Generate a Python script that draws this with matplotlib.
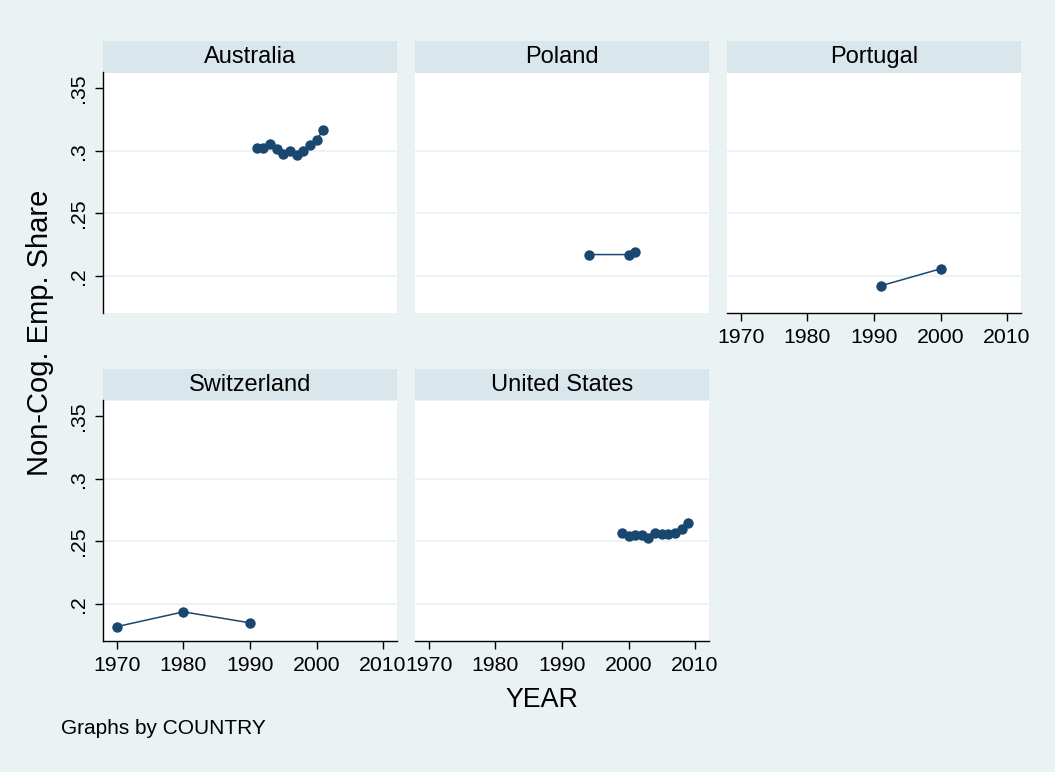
import matplotlib
matplotlib.use("Agg")
import matplotlib.pyplot as plt

plt.rcParams['font.family'] = ['Liberation Sans', 'DejaVu Sans']

# ---- data ----
countries = ["Australia", "Poland", "Portugal", "Switzerland", "United States"]
aus_years = [1991, 1992, 1993, 1994, 1995, 1996, 1997, 1998, 1999, 2000, 2001]
aus_vals = [0.302, 0.302, 0.305, 0.301, 0.297, 0.300, 0.2965, 0.300, 0.3045, 0.3085, 0.3165]
pol_years = [1994, 2000, 2001]
pol_vals = [0.217, 0.217, 0.219]
prt_years = [1991, 2000]
prt_vals = [0.192, 0.2056]
che_years = [1970, 1980, 1990]
che_vals = [0.1818, 0.1936, 0.1848]
usa_years = [1999, 2000, 2001, 2002, 2003, 2004, 2005, 2006, 2007, 2008, 2009]
usa_vals = [0.2564, 0.254, 0.2552, 0.2548, 0.2524, 0.257, 0.2556, 0.2558, 0.257, 0.2598, 0.2648]
series = [(aus_years, aus_vals), (pol_years, pol_vals), (prt_years, prt_vals),
          (che_years, che_vals), (usa_years, usa_vals)]

xticks = [1970, 1980, 1990, 2000, 2010]
yticks = [0.2, 0.25, 0.3, 0.35]
yticklabels = [".2", ".25", ".3", ".35"]

BG = "#EAF2F3"
STRIP = "#D9E6EB"
GRID = "#EAF2F3"
NAVY = "#1A476F"

W, H = 1055, 772
fig = plt.figure(figsize=(W / 100, H / 100), dpi=100)
fig.patch.set_facecolor(BG)

def px_axes(x0, y0, x1, y1):
    return fig.add_axes([x0 / W, 1 - y1 / H, (x1 - x0) / W, (y1 - y0) / H])

cols = [(103, 397), (415, 709), (727, 1021)]
rows = [(41, 72.5, 313), (369, 400.5, 641)]
positions = [(0, 0), (0, 1), (0, 2), (1, 0), (1, 1)]
show_x = [False, False, True, True, True]

for i, (name, (yrs, vals)) in enumerate(zip(countries, series)):
    r, c = positions[i]
    x0, x1 = cols[c]
    st, pt, pb = rows[r]
    sax = px_axes(x0, st, x1, pt)
    sax.set_facecolor(STRIP)
    sax.set_xticks([]); sax.set_yticks([])
    for s in sax.spines.values():
        s.set_visible(False)
    sax.text(0.5, 0.48, name, ha="center", va="center", fontsize=17, transform=sax.transAxes)

    ax = px_axes(x0, pt, x1, pb)
    ax.set_facecolor("white")
    ax.set_xlim(1967.9, 2012.1)
    ax.set_ylim(0.1703, 0.3625)
    for yv in [0.2, 0.25, 0.3]:
        ax.axhline(yv, color=GRID, lw=1.2, zorder=0)
    ax.plot(yrs, vals, color=NAVY, lw=1.1, marker="o", markersize=7.5,
            markeredgewidth=0, zorder=3)
    for s in ax.spines.values():
        s.set_visible(False)
    if c == 0:
        ax.spines["left"].set_visible(True)
        ax.spines["left"].set_color("black")
        ax.spines["left"].set_linewidth(1.0)
        ax.set_yticks(yticks)
        ax.set_yticklabels(yticklabels, rotation=90, va="center", fontsize=15.3)
        ax.tick_params(axis="y", length=6, width=1, pad=5)
    else:
        ax.set_yticks([])
    if show_x[i]:
        ax.spines["bottom"].set_visible(True)
        ax.spines["bottom"].set_color("black")
        ax.spines["bottom"].set_linewidth(1.0)
        ax.set_xticks(xticks)
        ax.set_xticklabels([str(t) for t in xticks], fontsize=15.3)
        ax.tick_params(axis="x", length=6, width=1, pad=5)
    else:
        ax.set_xticks([])

fig.text(40 / W, 1 - 333 / H, "Non-Cog. Emp. Share", rotation=90, ha="center",
         va="center", fontsize=21)
fig.text(542 / W, 1 - 700 / H, "YEAR", ha="center", va="center", fontsize=19.3)
fig.text(61 / W, 1 - 729 / H, "Graphs by COUNTRY", ha="left", va="center", fontsize=15)

fig.savefig("out.png", dpi=100, facecolor=BG)
